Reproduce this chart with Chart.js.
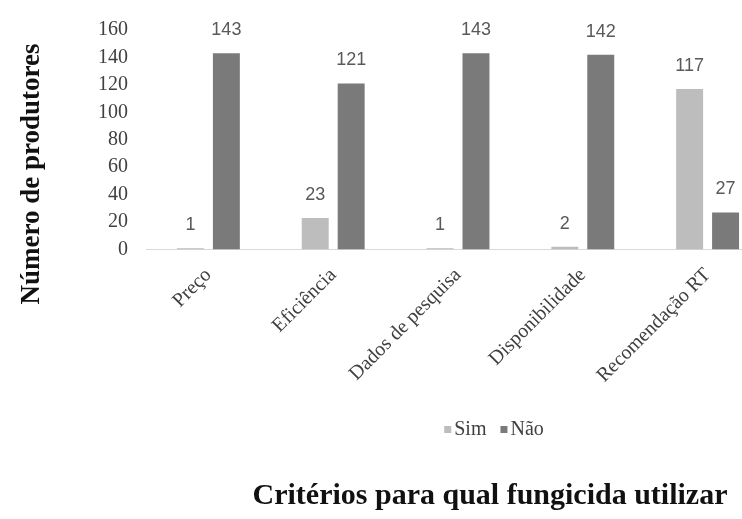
<!DOCTYPE html>
<html lang="pt">
<head>
<meta charset="utf-8">
<title>Critérios para qual fungicida utilizar</title>
<script src="https://cdn.jsdelivr.net/npm/chart.js@4/dist/chart.umd.min.js"></script>
<style>
  html, body { margin: 0; padding: 0; background: #fff; overflow: hidden; }
  #wrap { width: 780px; height: 519px; }
</style>
</head>
<body>
<div id="wrap"><canvas id="chart" width="780" height="519"></canvas></div>
<script>
// Critérios usados pelos produtores na escolha do fungicida
const categories = ['Preço', 'Eficiência', 'Dados de pesquisa', 'Disponibilidade', 'Recomendação RT'];
const simValues = [1, 23, 1, 2, 117];
const naoValues = [143, 121, 143, 142, 27];
const seriesNames = ['Sim', 'Não'];
const yTicks = [0, 20, 40, 60, 80, 100, 120, 140, 160];

const yTitle = 'Número de produtores';
const xTitle = 'Critérios para qual fungicida utilizar';

const colors = ['#bdbdbd', '#7a7a7a'];
const serif = '"Liberation Serif", "Times New Roman", serif';
const sans = '"Liberation Sans", Arial, sans-serif';

// valores sobre cada barra, título vertical, legenda e título inferior
const decorations = {
  id: 'decorations',
  afterDatasetsDraw(chart) {
    const ctx = chart.ctx;
    ctx.save();
    ctx.font = '18px ' + sans;
    ctx.fillStyle = '#595959';
    ctx.textAlign = 'center';
    ctx.textBaseline = 'middle';
    chart.data.datasets.forEach((ds, di) => {
      chart.getDatasetMeta(di).data.forEach((bar, i) => {
        ctx.fillText(String(ds.data[i]), bar.x, bar.y - 23);
      });
    });
    ctx.restore();
  },
  afterDraw(chart) {
    const ctx = chart.ctx;
    ctx.save();

    // título do eixo vertical
    ctx.font = 'bold 27px ' + serif;
    ctx.fillStyle = '#111';
    ctx.textAlign = 'center';
    ctx.textBaseline = 'middle';
    ctx.translate(32, 174);
    ctx.rotate(-Math.PI / 2);
    ctx.fillText(yTitle, 0, 0);
    ctx.setTransform(1, 0, 0, 1, 0, 0);

    // legenda
    ctx.font = '20px ' + serif;
    ctx.textAlign = 'left';
    ctx.textBaseline = 'middle';
    const box = 7, gap = 3, itemGap = 14;
    const widths = chart.data.datasets.map(ds => ctx.measureText(ds.label).width);
    let total = widths.reduce((a, w) => a + box + gap + w, 0) + itemGap * (widths.length - 1);
    let x = 494 - total / 2;
    const ly = 430;
    chart.data.datasets.forEach((ds, i) => {
      ctx.fillStyle = ds.backgroundColor;
      ctx.fillRect(x, ly - 4, box, box);
      ctx.fillStyle = '#404040';
      ctx.fillText(ds.label, x + box + gap, ly);
      x += box + gap + widths[i] + itemGap;
    });

    // título inferior
    ctx.font = 'bold 30px ' + serif;
    ctx.fillStyle = '#111';
    ctx.textAlign = 'center';
    ctx.fillText(xTitle, 490, 496);
    ctx.restore();
  }
};

new Chart(document.getElementById('chart'), {
  type: 'bar',
  data: {
    labels: categories,
    datasets: [
      { label: seriesNames[0], data: simValues, backgroundColor: colors[0] },
      { label: seriesNames[1], data: naoValues, backgroundColor: colors[1] }
    ]
  },
  options: {
    responsive: false,
    animation: false,
    devicePixelRatio: 1,
    layout: { padding: { top: 30, right: 10, left: 0, bottom: 0 } },
    datasets: { bar: { categoryPercentage: 0.576, barPercentage: 0.75 } },
    plugins: {
      legend: { display: false },
      title: { display: false },
      tooltip: { enabled: false }
    },
    scales: {
      x: {
        grid: { display: false, drawTicks: false },
        border: { display: true, color: '#d9d9d9', width: 1 },
        ticks: {
          autoSkip: false,
          minRotation: 45,
          maxRotation: 45,
          padding: 14,
          color: '#404040',
          font: { family: serif, size: 20 }
        },
        afterFit(scale) { scale.height = 269.5; }
      },
      y: {
        min: 0,
        max: 160,
        afterBuildTicks(scale) { scale.ticks = yTicks.map(v => ({ value: v })); },
        grid: { display: false, drawTicks: false },
        border: { display: false },
        ticks: {
          padding: 18,
          color: '#404040',
          font: { family: serif, size: 20 }
        },
        afterFit(scale) { scale.width = 146; }
      }
    }
  },
  plugins: [decorations]
});
</script>
</body>
</html>
